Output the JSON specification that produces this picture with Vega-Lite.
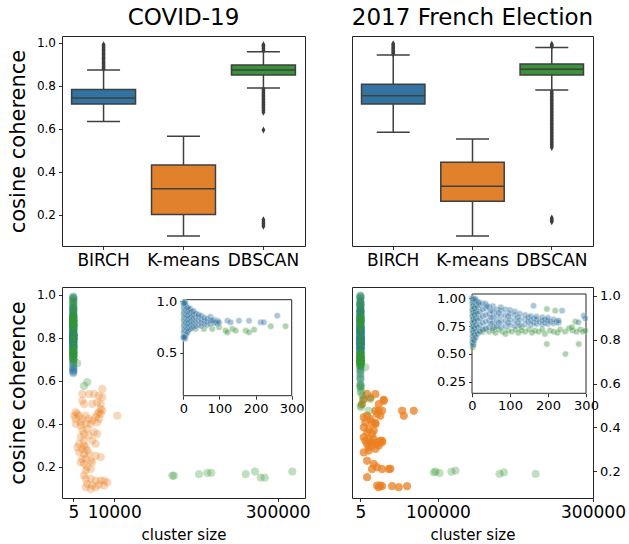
{
"$schema": "https://vega.github.io/schema/vega-lite/v6.json",
"padding": {"left": 6, "top": 6, "right": 2, "bottom": 2},
"config": {
 "font": "DejaVu Sans",
 "view": {"stroke": "#262626", "strokeWidth": 1},
 "axis": {"labelColor": "#000", "tickColor": "#000", "titleColor": "#000", "domain": false, "grid": false, "tickSize": 3.5, "tickWidth": 0.8, "labelPadding": 3, "titleFontWeight": "normal", "labelFlush": false, "labelOverlap": false},
 "title": {"fontSize": 23, "fontWeight": "normal", "color": "#000", "offset": 6}
},
"datasets": {
 "box_covid": [
  {"method": "BIRCH", "lo": 0.633, "q1": 0.715, "med": 0.743, "q3": 0.782, "hi": 0.873},
  {"method": "K-means", "lo": 0.1, "q1": 0.2, "med": 0.32, "q3": 0.431, "hi": 0.565},
  {"method": "DBSCAN", "lo": 0.789, "q1": 0.85, "med": 0.873, "q3": 0.896, "hi": 0.958}
 ],
 "box_french": [
  {"method": "BIRCH", "lo": 0.583, "q1": 0.715, "med": 0.753, "q3": 0.806, "hi": 0.943},
  {"method": "K-means", "lo": 0.1, "q1": 0.262, "med": 0.332, "q3": 0.444, "hi": 0.552},
  {"method": "DBSCAN", "lo": 0.78, "q1": 0.85, "med": 0.876, "q3": 0.901, "hi": 0.977}
 ],
 "out_covid": [
  {"method": "BIRCH", "v": 0.878}, {"method": "BIRCH", "v": 0.884}, {"method": "BIRCH", "v": 0.89}, {"method": "BIRCH", "v": 0.896}, {"method": "BIRCH", "v": 0.902}, {"method": "BIRCH", "v": 0.908}, {"method": "BIRCH", "v": 0.914}, {"method": "BIRCH", "v": 0.92}, {"method": "BIRCH", "v": 0.926}, {"method": "BIRCH", "v": 0.932}, {"method": "BIRCH", "v": 0.938}, {"method": "BIRCH", "v": 0.944}, {"method": "BIRCH", "v": 0.95}, {"method": "BIRCH", "v": 0.956}, {"method": "BIRCH", "v": 0.962}, {"method": "BIRCH", "v": 0.968}, {"method": "BIRCH", "v": 0.974}, {"method": "BIRCH", "v": 0.98}, {"method": "BIRCH", "v": 0.986}, {"method": "BIRCH", "v": 0.99},
  {"method": "DBSCAN", "v": 0.964}, {"method": "DBSCAN", "v": 0.972}, {"method": "DBSCAN", "v": 0.98}, {"method": "DBSCAN", "v": 0.986}, {"method": "DBSCAN", "v": 0.99},
  {"method": "DBSCAN", "v": 0.783}, {"method": "DBSCAN", "v": 0.776}, {"method": "DBSCAN", "v": 0.769}, {"method": "DBSCAN", "v": 0.762}, {"method": "DBSCAN", "v": 0.755}, {"method": "DBSCAN", "v": 0.748}, {"method": "DBSCAN", "v": 0.741}, {"method": "DBSCAN", "v": 0.734}, {"method": "DBSCAN", "v": 0.727}, {"method": "DBSCAN", "v": 0.72}, {"method": "DBSCAN", "v": 0.713}, {"method": "DBSCAN", "v": 0.706}, {"method": "DBSCAN", "v": 0.699}, {"method": "DBSCAN", "v": 0.692}, {"method": "DBSCAN", "v": 0.684}, {"method": "DBSCAN", "v": 0.676},
  {"method": "DBSCAN", "v": 0.594}, {"method": "DBSCAN", "v": 0.176}, {"method": "DBSCAN", "v": 0.168}, {"method": "DBSCAN", "v": 0.16}, {"method": "DBSCAN", "v": 0.152}, {"method": "DBSCAN", "v": 0.146}
 ],
 "out_french": [
  {"method": "BIRCH", "v": 0.948}, {"method": "BIRCH", "v": 0.954}, {"method": "BIRCH", "v": 0.96}, {"method": "BIRCH", "v": 0.966}, {"method": "BIRCH", "v": 0.972}, {"method": "BIRCH", "v": 0.978}, {"method": "BIRCH", "v": 0.984}, {"method": "BIRCH", "v": 0.99}, {"method": "BIRCH", "v": 0.995},
  {"method": "DBSCAN", "v": 0.982}, {"method": "DBSCAN", "v": 0.988}, {"method": "DBSCAN", "v": 0.993},
  {"method": "DBSCAN", "v": 0.772}, {"method": "DBSCAN", "v": 0.765}, {"method": "DBSCAN", "v": 0.758}, {"method": "DBSCAN", "v": 0.751}, {"method": "DBSCAN", "v": 0.744}, {"method": "DBSCAN", "v": 0.737}, {"method": "DBSCAN", "v": 0.73}, {"method": "DBSCAN", "v": 0.723}, {"method": "DBSCAN", "v": 0.716}, {"method": "DBSCAN", "v": 0.709}, {"method": "DBSCAN", "v": 0.702}, {"method": "DBSCAN", "v": 0.695}, {"method": "DBSCAN", "v": 0.688}, {"method": "DBSCAN", "v": 0.681}, {"method": "DBSCAN", "v": 0.674}, {"method": "DBSCAN", "v": 0.667}, {"method": "DBSCAN", "v": 0.66}, {"method": "DBSCAN", "v": 0.653}, {"method": "DBSCAN", "v": 0.646}, {"method": "DBSCAN", "v": 0.639}, {"method": "DBSCAN", "v": 0.632}, {"method": "DBSCAN", "v": 0.625}, {"method": "DBSCAN", "v": 0.618}, {"method": "DBSCAN", "v": 0.611}, {"method": "DBSCAN", "v": 0.604}, {"method": "DBSCAN", "v": 0.597}, {"method": "DBSCAN", "v": 0.59}, {"method": "DBSCAN", "v": 0.583}, {"method": "DBSCAN", "v": 0.576}, {"method": "DBSCAN", "v": 0.569}, {"method": "DBSCAN", "v": 0.562}, {"method": "DBSCAN", "v": 0.555}, {"method": "DBSCAN", "v": 0.548}, {"method": "DBSCAN", "v": 0.541}, {"method": "DBSCAN", "v": 0.534}, {"method": "DBSCAN", "v": 0.527}, {"method": "DBSCAN", "v": 0.52}, {"method": "DBSCAN", "v": 0.513},
  {"method": "DBSCAN", "v": 0.184}, {"method": "DBSCAN", "v": 0.178}, {"method": "DBSCAN", "v": 0.172}, {"method": "DBSCAN", "v": 0.167}
 ],
 "sc_covid": [
  {"method": "BIRCH", "size": 2, "coh": 0.64}, {"method": "BIRCH", "size": 2, "coh": 0.7}, {"method": "BIRCH", "size": 2, "coh": 0.76}, {"method": "BIRCH", "size": 2, "coh": 0.82}, {"method": "BIRCH", "size": 2, "coh": 0.88}, {"method": "BIRCH", "size": 2, "coh": 0.94}, {"method": "BIRCH", "size": 2, "coh": 0.99},
  {"method": "BIRCH", "size": 3, "coh": 0.66}, {"method": "BIRCH", "size": 3, "coh": 0.72}, {"method": "BIRCH", "size": 3, "coh": 0.78}, {"method": "BIRCH", "size": 3, "coh": 0.84}, {"method": "BIRCH", "size": 3, "coh": 0.9}, {"method": "BIRCH", "size": 3, "coh": 0.96},
  {"method": "BIRCH", "size": 5, "coh": 0.635}, {"method": "BIRCH", "size": 5, "coh": 0.68}, {"method": "BIRCH", "size": 5, "coh": 0.74}, {"method": "BIRCH", "size": 5, "coh": 0.8}, {"method": "BIRCH", "size": 5, "coh": 0.86}, {"method": "BIRCH", "size": 5, "coh": 0.92}, {"method": "BIRCH", "size": 5, "coh": 0.97},
  {"method": "BIRCH", "size": 7, "coh": 0.67}, {"method": "BIRCH", "size": 7, "coh": 0.71}, {"method": "BIRCH", "size": 7, "coh": 0.75}, {"method": "BIRCH", "size": 7, "coh": 0.79}, {"method": "BIRCH", "size": 7, "coh": 0.83}, {"method": "BIRCH", "size": 7, "coh": 0.87}, {"method": "BIRCH", "size": 7, "coh": 0.91}, {"method": "BIRCH", "size": 7, "coh": 0.95},
  {"method": "BIRCH", "size": 9, "coh": 0.69}, {"method": "BIRCH", "size": 9, "coh": 0.73}, {"method": "BIRCH", "size": 9, "coh": 0.77}, {"method": "BIRCH", "size": 9, "coh": 0.81}, {"method": "BIRCH", "size": 9, "coh": 0.85}, {"method": "BIRCH", "size": 9, "coh": 0.89}, {"method": "BIRCH", "size": 9, "coh": 0.93},
  {"method": "BIRCH", "size": 12, "coh": 0.7}, {"method": "BIRCH", "size": 12, "coh": 0.74}, {"method": "BIRCH", "size": 12, "coh": 0.78}, {"method": "BIRCH", "size": 12, "coh": 0.82}, {"method": "BIRCH", "size": 12, "coh": 0.86}, {"method": "BIRCH", "size": 12, "coh": 0.9}, {"method": "BIRCH", "size": 12, "coh": 0.94},
  {"method": "BIRCH", "size": 15, "coh": 0.72}, {"method": "BIRCH", "size": 15, "coh": 0.76}, {"method": "BIRCH", "size": 15, "coh": 0.8}, {"method": "BIRCH", "size": 15, "coh": 0.84}, {"method": "BIRCH", "size": 15, "coh": 0.88}, {"method": "BIRCH", "size": 15, "coh": 0.92},
  {"method": "BIRCH", "size": 19, "coh": 0.73}, {"method": "BIRCH", "size": 19, "coh": 0.77}, {"method": "BIRCH", "size": 19, "coh": 0.81}, {"method": "BIRCH", "size": 19, "coh": 0.85}, {"method": "BIRCH", "size": 19, "coh": 0.89}, {"method": "BIRCH", "size": 19, "coh": 0.93},
  {"method": "BIRCH", "size": 24, "coh": 0.74}, {"method": "BIRCH", "size": 24, "coh": 0.78}, {"method": "BIRCH", "size": 24, "coh": 0.82}, {"method": "BIRCH", "size": 24, "coh": 0.86}, {"method": "BIRCH", "size": 24, "coh": 0.9},
  {"method": "BIRCH", "size": 29, "coh": 0.75}, {"method": "BIRCH", "size": 29, "coh": 0.79}, {"method": "BIRCH", "size": 29, "coh": 0.83}, {"method": "BIRCH", "size": 29, "coh": 0.87}, {"method": "BIRCH", "size": 29, "coh": 0.905},
  {"method": "BIRCH", "size": 35, "coh": 0.76}, {"method": "BIRCH", "size": 35, "coh": 0.8}, {"method": "BIRCH", "size": 35, "coh": 0.84}, {"method": "BIRCH", "size": 35, "coh": 0.88},
  {"method": "BIRCH", "size": 42, "coh": 0.77}, {"method": "BIRCH", "size": 42, "coh": 0.81}, {"method": "BIRCH", "size": 42, "coh": 0.85}, {"method": "BIRCH", "size": 42, "coh": 0.87},
  {"method": "BIRCH", "size": 50, "coh": 0.76}, {"method": "BIRCH", "size": 50, "coh": 0.79}, {"method": "BIRCH", "size": 50, "coh": 0.82}, {"method": "BIRCH", "size": 50, "coh": 0.86},
  {"method": "BIRCH", "size": 58, "coh": 0.78}, {"method": "BIRCH", "size": 58, "coh": 0.81}, {"method": "BIRCH", "size": 58, "coh": 0.84},
  {"method": "BIRCH", "size": 66, "coh": 0.77}, {"method": "BIRCH", "size": 66, "coh": 0.8}, {"method": "BIRCH", "size": 66, "coh": 0.83},
  {"method": "BIRCH", "size": 75, "coh": 0.78}, {"method": "BIRCH", "size": 75, "coh": 0.81}, {"method": "BIRCH", "size": 75, "coh": 0.85},
  {"method": "BIRCH", "size": 85, "coh": 0.79}, {"method": "BIRCH", "size": 85, "coh": 0.82},
  {"method": "BIRCH", "size": 95, "coh": 0.78}, {"method": "BIRCH", "size": 95, "coh": 0.81},
  {"method": "BIRCH", "size": 80, "coh": 0.811}, {"method": "BIRCH", "size": 90, "coh": 0.795}, {"method": "BIRCH", "size": 99, "coh": 0.795}, {"method": "BIRCH", "size": 122, "coh": 0.811}, {"method": "BIRCH", "size": 131, "coh": 0.795}, {"method": "BIRCH", "size": 154, "coh": 0.811}, {"method": "BIRCH", "size": 182, "coh": 0.811}, {"method": "BIRCH", "size": 214, "coh": 0.795}, {"method": "BIRCH", "size": 223, "coh": 0.795}, {"method": "BIRCH", "size": 260, "coh": 0.86},
  {"method": "BIRCH", "size": 1, "coh": 0.645}, {"method": "BIRCH", "size": 1, "coh": 0.655}, {"method": "BIRCH", "size": 4, "coh": 0.65}, {"method": "BIRCH", "size": 1, "coh": 0.98}, {"method": "BIRCH", "size": 4, "coh": 0.985},
  {"method": "K-means", "size": 13210, "coh": 0.538}, {"method": "K-means", "size": 23040, "coh": 0.538}, {"method": "K-means", "size": 30380, "coh": 0.538}, {"method": "K-means", "size": 37720, "coh": 0.53}, {"method": "K-means", "size": 42560, "coh": 0.523}, {"method": "K-means", "size": 13210, "coh": 0.507}, {"method": "K-means", "size": 15700, "coh": 0.492}, {"method": "K-means", "size": 27890, "coh": 0.492}, {"method": "K-means", "size": 35220, "coh": 0.499}, {"method": "K-means", "size": 40210, "coh": 0.492},
  {"method": "K-means", "size": 40210, "coh": 0.468}, {"method": "K-means", "size": 37720, "coh": 0.453}, {"method": "K-means", "size": 42560, "coh": 0.461}, {"method": "K-means", "size": 35220, "coh": 0.445}, {"method": "K-means", "size": 3520, "coh": 0.453}, {"method": "K-means", "size": 5870, "coh": 0.445}, {"method": "K-means", "size": 1030, "coh": 0.437}, {"method": "K-means", "size": 8370, "coh": 0.437}, {"method": "K-means", "size": 13210, "coh": 0.422}, {"method": "K-means", "size": 18200, "coh": 0.437},
  {"method": "K-means", "size": 23040, "coh": 0.422}, {"method": "K-means", "size": 27890, "coh": 0.414}, {"method": "K-means", "size": 32880, "coh": 0.43}, {"method": "K-means", "size": 37720, "coh": 0.422}, {"method": "K-means", "size": 40210, "coh": 0.445}, {"method": "K-means", "size": 64580, "coh": 0.437}, {"method": "K-means", "size": 3520, "coh": 0.399}, {"method": "K-means", "size": 10860, "coh": 0.391}, {"method": "K-means", "size": 18200, "coh": 0.399}, {"method": "K-means", "size": 25540, "coh": 0.399},
  {"method": "K-means", "size": 35220, "coh": 0.406}, {"method": "K-means", "size": 13210, "coh": 0.368}, {"method": "K-means", "size": 15700, "coh": 0.352}, {"method": "K-means", "size": 10860, "coh": 0.337}, {"method": "K-means", "size": 15700, "coh": 0.321}, {"method": "K-means", "size": 30380, "coh": 0.36}, {"method": "K-means", "size": 35220, "coh": 0.352}, {"method": "K-means", "size": 8370, "coh": 0.306}, {"method": "K-means", "size": 15700, "coh": 0.298}, {"method": "K-means", "size": 27890, "coh": 0.321},
  {"method": "K-means", "size": 32880, "coh": 0.306}, {"method": "K-means", "size": 5870, "coh": 0.29}, {"method": "K-means", "size": 13210, "coh": 0.282}, {"method": "K-means", "size": 20550, "coh": 0.275}, {"method": "K-means", "size": 8370, "coh": 0.267}, {"method": "K-means", "size": 15700, "coh": 0.259}, {"method": "K-means", "size": 23040, "coh": 0.259}, {"method": "K-means", "size": 32880, "coh": 0.251}, {"method": "K-means", "size": 40210, "coh": 0.244}, {"method": "K-means", "size": 13210, "coh": 0.236},
  {"method": "K-means", "size": 18200, "coh": 0.236}, {"method": "K-means", "size": 25540, "coh": 0.228}, {"method": "K-means", "size": 27890, "coh": 0.22}, {"method": "K-means", "size": 15700, "coh": 0.213}, {"method": "K-means", "size": 20550, "coh": 0.197}, {"method": "K-means", "size": 18200, "coh": 0.182}, {"method": "K-means", "size": 25540, "coh": 0.189}, {"method": "K-means", "size": 18200, "coh": 0.143}, {"method": "K-means", "size": 25540, "coh": 0.143}, {"method": "K-means", "size": 32880, "coh": 0.135},
  {"method": "K-means", "size": 40210, "coh": 0.135}, {"method": "K-means", "size": 45060, "coh": 0.135}, {"method": "K-means", "size": 49900, "coh": 0.127}, {"method": "K-means", "size": 20550, "coh": 0.119}, {"method": "K-means", "size": 27890, "coh": 0.112}, {"method": "K-means", "size": 37720, "coh": 0.115}, {"method": "K-means", "size": 45060, "coh": 0.112}, {"method": "K-means", "size": 18200, "coh": 0.104}, {"method": "K-means", "size": 25540, "coh": 0.096}, {"method": "K-means", "size": 32880, "coh": 0.104},
  {"method": "K-means", "size": 10860, "coh": 0.406}, {"method": "K-means", "size": 20550, "coh": 0.376}, {"method": "K-means", "size": 23040, "coh": 0.345}, {"method": "K-means", "size": 18200, "coh": 0.29}, {"method": "K-means", "size": 10860, "coh": 0.22}, {"method": "K-means", "size": 15700, "coh": 0.159}, {"method": "K-means", "size": 42560, "coh": 0.561}, {"method": "K-means", "size": 3520, "coh": 0.422},
  {"method": "DBSCAN", "size": 2, "coh": 0.7}, {"method": "DBSCAN", "size": 2, "coh": 0.76}, {"method": "DBSCAN", "size": 2, "coh": 0.82}, {"method": "DBSCAN", "size": 2, "coh": 0.86}, {"method": "DBSCAN", "size": 2, "coh": 0.88}, {"method": "DBSCAN", "size": 2, "coh": 0.92}, {"method": "DBSCAN", "size": 2, "coh": 0.97},
  {"method": "DBSCAN", "size": 3, "coh": 0.68}, {"method": "DBSCAN", "size": 3, "coh": 0.74}, {"method": "DBSCAN", "size": 3, "coh": 0.8}, {"method": "DBSCAN", "size": 3, "coh": 0.85}, {"method": "DBSCAN", "size": 3, "coh": 0.87}, {"method": "DBSCAN", "size": 3, "coh": 0.89}, {"method": "DBSCAN", "size": 3, "coh": 0.95}, {"method": "DBSCAN", "size": 3, "coh": 0.99},
  {"method": "DBSCAN", "size": 5, "coh": 0.72}, {"method": "DBSCAN", "size": 5, "coh": 0.78}, {"method": "DBSCAN", "size": 5, "coh": 0.84}, {"method": "DBSCAN", "size": 5, "coh": 0.86}, {"method": "DBSCAN", "size": 5, "coh": 0.88}, {"method": "DBSCAN", "size": 5, "coh": 0.9}, {"method": "DBSCAN", "size": 5, "coh": 0.93}, {"method": "DBSCAN", "size": 5, "coh": 0.98},
  {"method": "DBSCAN", "size": 7, "coh": 0.75}, {"method": "DBSCAN", "size": 7, "coh": 0.81}, {"method": "DBSCAN", "size": 7, "coh": 0.855}, {"method": "DBSCAN", "size": 7, "coh": 0.875}, {"method": "DBSCAN", "size": 7, "coh": 0.895}, {"method": "DBSCAN", "size": 7, "coh": 0.94}, {"method": "DBSCAN", "size": 7, "coh": 0.96},
  {"method": "DBSCAN", "size": 10, "coh": 0.79}, {"method": "DBSCAN", "size": 10, "coh": 0.85}, {"method": "DBSCAN", "size": 10, "coh": 0.87}, {"method": "DBSCAN", "size": 10, "coh": 0.89}, {"method": "DBSCAN", "size": 10, "coh": 0.91},
  {"method": "DBSCAN", "size": 14, "coh": 0.83}, {"method": "DBSCAN", "size": 14, "coh": 0.86}, {"method": "DBSCAN", "size": 14, "coh": 0.88}, {"method": "DBSCAN", "size": 14, "coh": 0.9},
  {"method": "DBSCAN", "size": 20, "coh": 0.8}, {"method": "DBSCAN", "size": 20, "coh": 0.86}, {"method": "DBSCAN", "size": 20, "coh": 0.88},
  {"method": "DBSCAN", "size": 34, "coh": 0.731}, {"method": "DBSCAN", "size": 57, "coh": 0.731}, {"method": "DBSCAN", "size": 80, "coh": 0.731}, {"method": "DBSCAN", "size": 99, "coh": 0.747}, {"method": "DBSCAN", "size": 117, "coh": 0.714}, {"method": "DBSCAN", "size": 122, "coh": 0.698}, {"method": "DBSCAN", "size": 136, "coh": 0.731}, {"method": "DBSCAN", "size": 145, "coh": 0.714}, {"method": "DBSCAN", "size": 173, "coh": 0.714}, {"method": "DBSCAN", "size": 182, "coh": 0.698}, {"method": "DBSCAN", "size": 196, "coh": 0.724}, {"method": "DBSCAN", "size": 242, "coh": 0.757}, {"method": "DBSCAN", "size": 283, "coh": 0.757},
  {"method": "DBSCAN", "size": 5870, "coh": 0.681}, {"method": "DBSCAN", "size": 15700, "coh": 0.576}, {"method": "DBSCAN", "size": 20550, "coh": 0.593},
  {"method": "DBSCAN", "size": 145300, "coh": 0.158}, {"method": "DBSCAN", "size": 147800, "coh": 0.158}, {"method": "DBSCAN", "size": 184500, "coh": 0.165}, {"method": "DBSCAN", "size": 196700, "coh": 0.171}, {"method": "DBSCAN", "size": 202500, "coh": 0.171}, {"method": "DBSCAN", "size": 253000, "coh": 0.165}, {"method": "DBSCAN", "size": 266700, "coh": 0.177}, {"method": "DBSCAN", "size": 275000, "coh": 0.149}, {"method": "DBSCAN", "size": 281000, "coh": 0.149}, {"method": "DBSCAN", "size": 321400, "coh": 0.177}
 ],
 "sc_french": [
  {"method": "BIRCH", "size": 1, "coh": 0.6}, {"method": "BIRCH", "size": 1, "coh": 0.66}, {"method": "BIRCH", "size": 1, "coh": 0.72}, {"method": "BIRCH", "size": 1, "coh": 0.78}, {"method": "BIRCH", "size": 1, "coh": 0.84}, {"method": "BIRCH", "size": 1, "coh": 0.9}, {"method": "BIRCH", "size": 1, "coh": 0.96}, {"method": "BIRCH", "size": 1, "coh": 1.0},
  {"method": "BIRCH", "size": 3, "coh": 0.58}, {"method": "BIRCH", "size": 3, "coh": 0.63}, {"method": "BIRCH", "size": 3, "coh": 0.69}, {"method": "BIRCH", "size": 3, "coh": 0.75}, {"method": "BIRCH", "size": 3, "coh": 0.81}, {"method": "BIRCH", "size": 3, "coh": 0.87}, {"method": "BIRCH", "size": 3, "coh": 0.93}, {"method": "BIRCH", "size": 3, "coh": 0.99},
  {"method": "BIRCH", "size": 6, "coh": 0.62}, {"method": "BIRCH", "size": 6, "coh": 0.67}, {"method": "BIRCH", "size": 6, "coh": 0.73}, {"method": "BIRCH", "size": 6, "coh": 0.79}, {"method": "BIRCH", "size": 6, "coh": 0.85}, {"method": "BIRCH", "size": 6, "coh": 0.91}, {"method": "BIRCH", "size": 6, "coh": 0.97},
  {"method": "BIRCH", "size": 10, "coh": 0.65}, {"method": "BIRCH", "size": 10, "coh": 0.7}, {"method": "BIRCH", "size": 10, "coh": 0.76}, {"method": "BIRCH", "size": 10, "coh": 0.82}, {"method": "BIRCH", "size": 10, "coh": 0.88}, {"method": "BIRCH", "size": 10, "coh": 0.94}, {"method": "BIRCH", "size": 10, "coh": 0.98},
  {"method": "BIRCH", "size": 15, "coh": 0.68}, {"method": "BIRCH", "size": 15, "coh": 0.74}, {"method": "BIRCH", "size": 15, "coh": 0.8}, {"method": "BIRCH", "size": 15, "coh": 0.86}, {"method": "BIRCH", "size": 15, "coh": 0.92}, {"method": "BIRCH", "size": 15, "coh": 0.97},
  {"method": "BIRCH", "size": 21, "coh": 0.7}, {"method": "BIRCH", "size": 21, "coh": 0.76}, {"method": "BIRCH", "size": 21, "coh": 0.82}, {"method": "BIRCH", "size": 21, "coh": 0.88}, {"method": "BIRCH", "size": 21, "coh": 0.94},
  {"method": "BIRCH", "size": 28, "coh": 0.72}, {"method": "BIRCH", "size": 28, "coh": 0.78}, {"method": "BIRCH", "size": 28, "coh": 0.84}, {"method": "BIRCH", "size": 28, "coh": 0.9}, {"method": "BIRCH", "size": 28, "coh": 0.955},
  {"method": "BIRCH", "size": 36, "coh": 0.73}, {"method": "BIRCH", "size": 36, "coh": 0.79}, {"method": "BIRCH", "size": 36, "coh": 0.85}, {"method": "BIRCH", "size": 36, "coh": 0.91}, {"method": "BIRCH", "size": 36, "coh": 0.95},
  {"method": "BIRCH", "size": 45, "coh": 0.74}, {"method": "BIRCH", "size": 45, "coh": 0.8}, {"method": "BIRCH", "size": 45, "coh": 0.86}, {"method": "BIRCH", "size": 45, "coh": 0.92},
  {"method": "BIRCH", "size": 50, "coh": 0.77}, {"method": "BIRCH", "size": 50, "coh": 0.83}, {"method": "BIRCH", "size": 50, "coh": 0.89},
  {"method": "BIRCH", "size": 55, "coh": 0.73}, {"method": "BIRCH", "size": 55, "coh": 0.78}, {"method": "BIRCH", "size": 55, "coh": 0.83}, {"method": "BIRCH", "size": 55, "coh": 0.88}, {"method": "BIRCH", "size": 55, "coh": 0.93},
  {"method": "BIRCH", "size": 65, "coh": 0.75}, {"method": "BIRCH", "size": 65, "coh": 0.8}, {"method": "BIRCH", "size": 65, "coh": 0.85}, {"method": "BIRCH", "size": 65, "coh": 0.9},
  {"method": "BIRCH", "size": 70, "coh": 0.78}, {"method": "BIRCH", "size": 70, "coh": 0.87},
  {"method": "BIRCH", "size": 76, "coh": 0.74}, {"method": "BIRCH", "size": 76, "coh": 0.79}, {"method": "BIRCH", "size": 76, "coh": 0.84}, {"method": "BIRCH", "size": 76, "coh": 0.89}, {"method": "BIRCH", "size": 76, "coh": 0.92},
  {"method": "BIRCH", "size": 88, "coh": 0.75}, {"method": "BIRCH", "size": 88, "coh": 0.8}, {"method": "BIRCH", "size": 88, "coh": 0.85}, {"method": "BIRCH", "size": 88, "coh": 0.9},
  {"method": "BIRCH", "size": 95, "coh": 0.78}, {"method": "BIRCH", "size": 95, "coh": 0.84},
  {"method": "BIRCH", "size": 100, "coh": 0.76}, {"method": "BIRCH", "size": 100, "coh": 0.81}, {"method": "BIRCH", "size": 100, "coh": 0.86}, {"method": "BIRCH", "size": 100, "coh": 0.895},
  {"method": "BIRCH", "size": 113, "coh": 0.75}, {"method": "BIRCH", "size": 113, "coh": 0.8}, {"method": "BIRCH", "size": 113, "coh": 0.85}, {"method": "BIRCH", "size": 113, "coh": 0.88},
  {"method": "BIRCH", "size": 120, "coh": 0.78}, {"method": "BIRCH", "size": 120, "coh": 0.83},
  {"method": "BIRCH", "size": 126, "coh": 0.76}, {"method": "BIRCH", "size": 126, "coh": 0.81}, {"method": "BIRCH", "size": 126, "coh": 0.86},
  {"method": "BIRCH", "size": 140, "coh": 0.765}, {"method": "BIRCH", "size": 140, "coh": 0.81}, {"method": "BIRCH", "size": 140, "coh": 0.85},
  {"method": "BIRCH", "size": 148, "coh": 0.79}, {"method": "BIRCH", "size": 148, "coh": 0.83},
  {"method": "BIRCH", "size": 155, "coh": 0.76}, {"method": "BIRCH", "size": 155, "coh": 0.8}, {"method": "BIRCH", "size": 155, "coh": 0.84},
  {"method": "BIRCH", "size": 163, "coh": 0.78}, {"method": "BIRCH", "size": 163, "coh": 0.82},
  {"method": "BIRCH", "size": 170, "coh": 0.77}, {"method": "BIRCH", "size": 170, "coh": 0.81}, {"method": "BIRCH", "size": 170, "coh": 0.835},
  {"method": "BIRCH", "size": 178, "coh": 0.79},
  {"method": "BIRCH", "size": 185, "coh": 0.765}, {"method": "BIRCH", "size": 185, "coh": 0.8}, {"method": "BIRCH", "size": 185, "coh": 0.83},
  {"method": "BIRCH", "size": 192, "coh": 0.78}, {"method": "BIRCH", "size": 192, "coh": 0.81},
  {"method": "BIRCH", "size": 200, "coh": 0.77}, {"method": "BIRCH", "size": 200, "coh": 0.8}, {"method": "BIRCH", "size": 200, "coh": 0.825},
  {"method": "BIRCH", "size": 207, "coh": 0.79}, {"method": "BIRCH", "size": 215, "coh": 0.775}, {"method": "BIRCH", "size": 215, "coh": 0.81}, {"method": "BIRCH", "size": 222, "coh": 0.79}, {"method": "BIRCH", "size": 228, "coh": 0.78}, {"method": "BIRCH", "size": 228, "coh": 0.8},
  {"method": "BIRCH", "size": 162, "coh": 0.933}, {"method": "BIRCH", "size": 237, "coh": 0.889}, {"method": "BIRCH", "size": 280, "coh": 0.784}, {"method": "BIRCH", "size": 294, "coh": 0.844}, {"method": "BIRCH", "size": 298, "coh": 0.82}, {"method": "BIRCH", "size": 8, "coh": 0.995}, {"method": "BIRCH", "size": 18, "coh": 0.96}, {"method": "BIRCH", "size": 40, "coh": 0.93},
  {"method": "K-means", "size": 8570, "coh": 0.552}, {"method": "K-means", "size": 19330, "coh": 0.552}, {"method": "K-means", "size": 4260, "coh": 0.529}, {"method": "K-means", "size": 12870, "coh": 0.536}, {"method": "K-means", "size": 23640, "coh": 0.506}, {"method": "K-means", "size": 30100, "coh": 0.521}, {"method": "K-means", "size": 2100, "coh": 0.506}, {"method": "K-means", "size": 53770, "coh": 0.476}, {"method": "K-means", "size": 68840, "coh": 0.476}, {"method": "K-means", "size": 55920, "coh": 0.453},
  {"method": "K-means", "size": 19330, "coh": 0.476}, {"method": "K-means", "size": 27950, "coh": 0.476}, {"method": "K-means", "size": 21500, "coh": 0.461}, {"method": "K-means", "size": 4260, "coh": 0.446}, {"method": "K-means", "size": 8570, "coh": 0.453}, {"method": "K-means", "size": 12870, "coh": 0.438}, {"method": "K-means", "size": 6400, "coh": 0.423}, {"method": "K-means", "size": 15000, "coh": 0.423}, {"method": "K-means", "size": 19330, "coh": 0.415}, {"method": "K-means", "size": 4260, "coh": 0.4},
  {"method": "K-means", "size": 10700, "coh": 0.392}, {"method": "K-means", "size": 17180, "coh": 0.385}, {"method": "K-means", "size": 8570, "coh": 0.377}, {"method": "K-means", "size": 15000, "coh": 0.37}, {"method": "K-means", "size": 4260, "coh": 0.355}, {"method": "K-means", "size": 10700, "coh": 0.347}, {"method": "K-means", "size": 19330, "coh": 0.332}, {"method": "K-means", "size": 25800, "coh": 0.339}, {"method": "K-means", "size": 6400, "coh": 0.339}, {"method": "K-means", "size": 12870, "coh": 0.332},
  {"method": "K-means", "size": 17180, "coh": 0.347}, {"method": "K-means", "size": 8570, "coh": 0.324}, {"method": "K-means", "size": 15000, "coh": 0.317}, {"method": "K-means", "size": 21500, "coh": 0.324}, {"method": "K-means", "size": 10700, "coh": 0.309}, {"method": "K-means", "size": 4260, "coh": 0.286}, {"method": "K-means", "size": 10700, "coh": 0.294}, {"method": "K-means", "size": 19330, "coh": 0.302}, {"method": "K-means", "size": 23640, "coh": 0.317}, {"method": "K-means", "size": 27950, "coh": 0.332},
  {"method": "K-means", "size": 8570, "coh": 0.248}, {"method": "K-means", "size": 17180, "coh": 0.233}, {"method": "K-means", "size": 15000, "coh": 0.21}, {"method": "K-means", "size": 27950, "coh": 0.21}, {"method": "K-means", "size": 36560, "coh": 0.21}, {"method": "K-means", "size": 21500, "coh": 0.218}, {"method": "K-means", "size": 8570, "coh": 0.173}, {"method": "K-means", "size": 21500, "coh": 0.135}, {"method": "K-means", "size": 25800, "coh": 0.135}, {"method": "K-means", "size": 27950, "coh": 0.132},
  {"method": "K-means", "size": 40860, "coh": 0.132}, {"method": "K-means", "size": 49470, "coh": 0.127}, {"method": "K-means", "size": 60230, "coh": 0.132}, {"method": "K-means", "size": 23640, "coh": 0.127}, {"method": "K-means", "size": 30100, "coh": 0.526}, {"method": "K-means", "size": 38700, "coh": 0.211}, {"method": "K-means", "size": 27900, "coh": 0.339}, {"method": "K-means", "size": 19400, "coh": 0.42}, {"method": "K-means", "size": 23600, "coh": 0.476}, {"method": "K-means", "size": 25800, "coh": 0.453},
  {"method": "DBSCAN", "size": 2, "coh": 0.56}, {"method": "DBSCAN", "size": 2, "coh": 0.62}, {"method": "DBSCAN", "size": 2, "coh": 0.7}, {"method": "DBSCAN", "size": 2, "coh": 0.78}, {"method": "DBSCAN", "size": 2, "coh": 0.84}, {"method": "DBSCAN", "size": 2, "coh": 0.87}, {"method": "DBSCAN", "size": 2, "coh": 0.89}, {"method": "DBSCAN", "size": 2, "coh": 0.93}, {"method": "DBSCAN", "size": 2, "coh": 0.97}, {"method": "DBSCAN", "size": 2, "coh": 1.0},
  {"method": "DBSCAN", "size": 4, "coh": 0.59}, {"method": "DBSCAN", "size": 4, "coh": 0.66}, {"method": "DBSCAN", "size": 4, "coh": 0.74}, {"method": "DBSCAN", "size": 4, "coh": 0.81}, {"method": "DBSCAN", "size": 4, "coh": 0.855}, {"method": "DBSCAN", "size": 4, "coh": 0.88}, {"method": "DBSCAN", "size": 4, "coh": 0.9}, {"method": "DBSCAN", "size": 4, "coh": 0.95}, {"method": "DBSCAN", "size": 4, "coh": 0.99},
  {"method": "DBSCAN", "size": 6, "coh": 0.64}, {"method": "DBSCAN", "size": 6, "coh": 0.72}, {"method": "DBSCAN", "size": 6, "coh": 0.8}, {"method": "DBSCAN", "size": 6, "coh": 0.86}, {"method": "DBSCAN", "size": 6, "coh": 0.875}, {"method": "DBSCAN", "size": 6, "coh": 0.905}, {"method": "DBSCAN", "size": 6, "coh": 0.96},
  {"method": "DBSCAN", "size": 9, "coh": 0.68}, {"method": "DBSCAN", "size": 9, "coh": 0.76}, {"method": "DBSCAN", "size": 9, "coh": 0.83}, {"method": "DBSCAN", "size": 9, "coh": 0.865}, {"method": "DBSCAN", "size": 9, "coh": 0.885}, {"method": "DBSCAN", "size": 9, "coh": 0.92},
  {"method": "DBSCAN", "size": 20, "coh": 0.71}, {"method": "DBSCAN", "size": 28, "coh": 0.7}, {"method": "DBSCAN", "size": 35, "coh": 0.72}, {"method": "DBSCAN", "size": 45, "coh": 0.7}, {"method": "DBSCAN", "size": 55, "coh": 0.71}, {"method": "DBSCAN", "size": 62, "coh": 0.69}, {"method": "DBSCAN", "size": 70, "coh": 0.72}, {"method": "DBSCAN", "size": 80, "coh": 0.7}, {"method": "DBSCAN", "size": 88, "coh": 0.68}, {"method": "DBSCAN", "size": 95, "coh": 0.71},
  {"method": "DBSCAN", "size": 105, "coh": 0.7}, {"method": "DBSCAN", "size": 115, "coh": 0.72}, {"method": "DBSCAN", "size": 122, "coh": 0.69}, {"method": "DBSCAN", "size": 130, "coh": 0.71}, {"method": "DBSCAN", "size": 140, "coh": 0.7}, {"method": "DBSCAN", "size": 150, "coh": 0.72}, {"method": "DBSCAN", "size": 158, "coh": 0.69}, {"method": "DBSCAN", "size": 165, "coh": 0.71}, {"method": "DBSCAN", "size": 175, "coh": 0.7}, {"method": "DBSCAN", "size": 185, "coh": 0.72},
  {"method": "DBSCAN", "size": 192, "coh": 0.68}, {"method": "DBSCAN", "size": 205, "coh": 0.71}, {"method": "DBSCAN", "size": 215, "coh": 0.7}, {"method": "DBSCAN", "size": 225, "coh": 0.69}, {"method": "DBSCAN", "size": 232, "coh": 0.72}, {"method": "DBSCAN", "size": 245, "coh": 0.7}, {"method": "DBSCAN", "size": 255, "coh": 0.73}, {"method": "DBSCAN", "size": 265, "coh": 0.71}, {"method": "DBSCAN", "size": 275, "coh": 0.7}, {"method": "DBSCAN", "size": 285, "coh": 0.72},
  {"method": "DBSCAN", "size": 292, "coh": 0.7}, {"method": "DBSCAN", "size": 298, "coh": 0.71},
  {"method": "DBSCAN", "size": 197, "coh": 0.904}, {"method": "DBSCAN", "size": 219, "coh": 0.889}, {"method": "DBSCAN", "size": 197, "coh": 0.589}, {"method": "DBSCAN", "size": 246, "coh": 0.499}, {"method": "DBSCAN", "size": 281, "coh": 0.589}, {"method": "DBSCAN", "size": 272, "coh": 0.79}, {"method": "DBSCAN", "size": 263, "coh": 0.74}, {"method": "DBSCAN", "size": 130, "coh": 0.74}, {"method": "DBSCAN", "size": 60, "coh": 0.74},
  {"method": "DBSCAN", "size": 1500, "coh": 0.565}, {"method": "DBSCAN", "size": 2500, "coh": 0.545}, {"method": "DBSCAN", "size": 3200, "coh": 0.525}, {"method": "DBSCAN", "size": 6450, "coh": 0.674}, {"method": "DBSCAN", "size": 800, "coh": 0.492}, {"method": "DBSCAN", "size": 10700, "coh": 0.476}, {"method": "DBSCAN", "size": 12870, "coh": 0.529},
  {"method": "DBSCAN", "size": 94700, "coh": 0.195}, {"method": "DBSCAN", "size": 96900, "coh": 0.198}, {"method": "DBSCAN", "size": 102000, "coh": 0.192}, {"method": "DBSCAN", "size": 117500, "coh": 0.198}, {"method": "DBSCAN", "size": 122700, "coh": 0.203}, {"method": "DBSCAN", "size": 179500, "coh": 0.188}, {"method": "DBSCAN", "size": 185100, "coh": 0.195}, {"method": "DBSCAN", "size": 226000, "coh": 0.188}
 ]
},
"columns": 2,
"spacing": {"row": 41, "column": 47},
"bounds": "flush",
"concat": [
 {
  "title": {"text": "COVID-19"},
  "width": 243, "height": 210,
  "encoding": {"x": {"field": "method", "type": "nominal", "sort": ["BIRCH", "K-means", "DBSCAN"], "scale": {"paddingInner": 0, "paddingOuter": 0.02}, "axis": {"title": null, "labelAngle": 0, "labelFontSize": 17}}},
  "layer": [
   {"data": {"name": "box_covid"}, "mark": {"type": "rule", "color": "#3f3f3f", "strokeWidth": 1.5},
    "encoding": {"y": {"field": "lo", "type": "quantitative", "title": "cosine coherence", "scale": {"domain": [0.054, 1.031], "nice": false, "zero": false}, "axis": {"values": [0.2, 0.4, 0.6, 0.8, 1.0], "format": ".1f", "labelFontSize": 12, "titleFontSize": 21, "titlePadding": 8}}, "y2": {"field": "q1"}}},
   {"data": {"name": "box_covid"}, "mark": {"type": "rule", "color": "#3f3f3f", "strokeWidth": 1.5},
    "encoding": {"y": {"field": "q3", "type": "quantitative", "title": "cosine coherence", "scale": {"domain": [0.054, 1.031], "nice": false, "zero": false}}, "y2": {"field": "hi"}}},
   {"data": {"name": "box_covid"}, "mark": {"type": "bar", "width": {"band": 0.8}, "stroke": "#3f3f3f", "strokeWidth": 1.5},
    "encoding": {"y": {"field": "q1", "type": "quantitative", "title": "cosine coherence", "scale": {"domain": [0.054, 1.031], "nice": false, "zero": false}}, "y2": {"field": "q3"},
     "color": {"field": "method", "type": "nominal", "scale": {"domain": ["BIRCH", "K-means", "DBSCAN"], "range": ["#3274a1", "#e1812c", "#3a923a"]}, "legend": null}}},
   {"data": {"name": "box_covid"}, "mark": {"type": "tick", "color": "#3f3f3f", "size": 64, "thickness": 1.5, "opacity": 1},
    "encoding": {"y": {"field": "med", "type": "quantitative", "title": "cosine coherence", "scale": {"domain": [0.054, 1.031], "nice": false, "zero": false}}}},
   {"data": {"name": "box_covid"}, "mark": {"type": "tick", "color": "#3f3f3f", "size": 33, "thickness": 1.5, "opacity": 1},
    "encoding": {"y": {"field": "lo", "type": "quantitative", "title": "cosine coherence", "scale": {"domain": [0.054, 1.031], "nice": false, "zero": false}}}},
   {"data": {"name": "box_covid"}, "mark": {"type": "tick", "color": "#3f3f3f", "size": 33, "thickness": 1.5, "opacity": 1},
    "encoding": {"y": {"field": "hi", "type": "quantitative", "title": "cosine coherence", "scale": {"domain": [0.054, 1.031], "nice": false, "zero": false}}}},
   {"data": {"name": "out_covid"}, "mark": {"type": "point", "shape": "M0,-1L0.55,0L0,1L-0.55,0Z", "filled": true, "color": "#3f3f3f", "opacity": 1, "size": 50},
    "encoding": {"y": {"field": "v", "type": "quantitative", "title": "cosine coherence", "scale": {"domain": [0.054, 1.031], "nice": false, "zero": false}}}}
  ]
 },
 {
  "title": {"text": "2017 French Election"},
  "width": 241, "height": 210,
  "encoding": {"x": {"field": "method", "type": "nominal", "sort": ["BIRCH", "K-means", "DBSCAN"], "scale": {"paddingInner": 0, "paddingOuter": 0.02}, "axis": {"title": null, "labelAngle": 0, "labelFontSize": 17}}},
  "layer": [
   {"data": {"name": "box_french"}, "mark": {"type": "rule", "color": "#3f3f3f", "strokeWidth": 1.5},
    "encoding": {"y": {"field": "lo", "type": "quantitative", "scale": {"domain": [0.054, 1.031], "nice": false, "zero": false}, "axis": null}, "y2": {"field": "q1"}}},
   {"data": {"name": "box_french"}, "mark": {"type": "rule", "color": "#3f3f3f", "strokeWidth": 1.5},
    "encoding": {"y": {"field": "q3", "type": "quantitative", "scale": {"domain": [0.054, 1.031], "nice": false, "zero": false}, "axis": null}, "y2": {"field": "hi"}}},
   {"data": {"name": "box_french"}, "mark": {"type": "bar", "width": {"band": 0.8}, "stroke": "#3f3f3f", "strokeWidth": 1.5},
    "encoding": {"y": {"field": "q1", "type": "quantitative", "scale": {"domain": [0.054, 1.031], "nice": false, "zero": false}, "axis": null}, "y2": {"field": "q3"},
     "color": {"field": "method", "type": "nominal", "scale": {"domain": ["BIRCH", "K-means", "DBSCAN"], "range": ["#3274a1", "#e1812c", "#3a923a"]}, "legend": null}}},
   {"data": {"name": "box_french"}, "mark": {"type": "tick", "color": "#3f3f3f", "size": 64, "thickness": 1.5, "opacity": 1},
    "encoding": {"y": {"field": "med", "type": "quantitative", "scale": {"domain": [0.054, 1.031], "nice": false, "zero": false}, "axis": null}}},
   {"data": {"name": "box_french"}, "mark": {"type": "tick", "color": "#3f3f3f", "size": 33, "thickness": 1.5, "opacity": 1},
    "encoding": {"y": {"field": "lo", "type": "quantitative", "scale": {"domain": [0.054, 1.031], "nice": false, "zero": false}, "axis": null}}},
   {"data": {"name": "box_french"}, "mark": {"type": "tick", "color": "#3f3f3f", "size": 33, "thickness": 1.5, "opacity": 1},
    "encoding": {"y": {"field": "hi", "type": "quantitative", "scale": {"domain": [0.054, 1.031], "nice": false, "zero": false}, "axis": null}}},
   {"data": {"name": "out_french"}, "mark": {"type": "point", "shape": "M0,-1L0.55,0L0,1L-0.55,0Z", "filled": true, "color": "#3f3f3f", "opacity": 1, "size": 50},
    "encoding": {"y": {"field": "v", "type": "quantitative", "scale": {"domain": [0.054, 1.031], "nice": false, "zero": false}, "axis": null}}}
  ]
 },
 {
  "width": 243, "height": 211,
  "resolve": {"scale": {"x": "independent", "y": "independent"}},
  "layer": [
   {"data": {"name": "sc_covid"},
    "mark": {"type": "circle", "size": 55, "opacity": 0.3, "strokeWidth": 1},
    "encoding": {
     "x": {"field": "size", "type": "quantitative", "scale": {"domain": [-16585, 340070], "nice": false, "zero": false}, "axis": {"orient": "bottom", "title": "cluster size", "titleFontSize": 15, "titlePadding": 7, "labelFontSize": 17, "values": [5, 60000, 300000], "labelExpr": "datum.value == 60000 ? '10000' : format(datum.value, 'd')"}},
     "y": {"field": "coh", "type": "quantitative", "scale": {"domain": [0.054, 1.036], "nice": false, "zero": false}, "axis": {"orient": "left", "title": "cosine coherence", "titleFontSize": 21, "titlePadding": 8, "labelFontSize": 12, "values": [0.2, 0.4, 0.6, 0.8, 1.0], "format": ".1f"}},
     "color": {"field": "method", "type": "nominal", "scale": {"domain": ["BIRCH", "K-means", "DBSCAN"], "range": ["#1f77b4", "#ff7f0e", "#2ca02c"]}, "legend": null},
     "stroke": {"field": "method", "type": "nominal", "scale": {"domain": ["BIRCH", "K-means", "DBSCAN"], "range": ["#1f77b4", "#ff7f0e", "#2ca02c"]}, "legend": null}
    }},
   {"layer": [
     {"data": {"values": [{}]}, "mark": {"type": "rect", "fill": "white", "stroke": "#262626", "strokeWidth": 1},
      "encoding": {"x": {"datum": 0, "type": "quantitative", "scale": {"domain": [0, 300], "range": [121.3, 229.7], "nice": false, "zero": false}, "axis": {"orient": "bottom", "offset": -102.3, "title": null, "values": [0, 100, 200, 300], "labelFontSize": 13}},
       "x2": {"datum": 300},
       "y": {"datum": 0.08, "type": "quantitative", "scale": {"domain": [0.08, 1.016], "range": [108.7, 12.7], "nice": false, "zero": false}, "axis": {"orient": "left", "offset": -121.3, "title": null, "values": [0.5, 1.0], "format": ".1f", "labelFontSize": 13}},
       "y2": {"datum": 1.016}}},
     {"data": {"name": "sc_covid"}, "transform": [{"filter": "datum.method != 'K-means' && datum.size <= 300"}],
      "mark": {"type": "circle", "size": 44, "opacity": 0.4, "stroke": "white", "strokeWidth": 0.6},
      "encoding": {"x": {"field": "size", "type": "quantitative", "title": null}, "y": {"field": "coh", "type": "quantitative", "title": null},
       "color": {"field": "method", "type": "nominal", "legend": null}, "order": {"field": "method", "sort": "descending"}}}
   ]}
  ]
 },
 {
  "width": 241, "height": 211,
  "resolve": {"scale": {"x": "independent", "y": "independent"}},
  "layer": [
   {"data": {"name": "sc_french"},
    "mark": {"type": "circle", "size": 55, "strokeWidth": 1},
    "encoding": {
     "x": {"field": "size", "type": "quantitative", "scale": {"domain": [-10850, 300000], "nice": false, "zero": false}, "axis": {"orient": "bottom", "title": "cluster size", "titleFontSize": 15, "titlePadding": 7, "labelFontSize": 17, "values": [5, 100000, 300000], "format": "d"}},
     "y": {"field": "coh", "type": "quantitative", "scale": {"domain": [0.078, 1.04], "nice": false, "zero": false}, "axis": {"orient": "right", "title": null, "labelFontSize": 13, "values": [0.2, 0.4, 0.6, 0.8, 1.0], "format": ".1f"}},
     "color": {"field": "method", "type": "nominal", "scale": {"domain": ["BIRCH", "K-means", "DBSCAN"], "range": ["#1f77b4", "#ff7f0e", "#2ca02c"]}, "legend": null},
     "stroke": {"field": "method", "type": "nominal", "scale": {"domain": ["BIRCH", "K-means", "DBSCAN"], "range": ["#1f77b4", "#ff7f0e", "#2ca02c"]}, "legend": null},
     "opacity": {"condition": {"test": "datum.method == 'K-means'", "value": 0.75}, "value": 0.3}
    }},
   {"layer": [
     {"data": {"values": [{}]}, "mark": {"type": "rect", "fill": "white", "stroke": "#262626", "strokeWidth": 1},
      "encoding": {"x": {"datum": 0, "type": "quantitative", "scale": {"domain": [0, 300], "range": [120, 234], "nice": false, "zero": false}, "axis": {"orient": "bottom", "offset": -104.7, "title": null, "values": [0, 100, 200, 300], "labelFontSize": 13}},
       "x2": {"datum": 300},
       "y": {"datum": 0.146, "type": "quantitative", "scale": {"domain": [0.146, 1.039], "range": [106.3, 7], "nice": false, "zero": false}, "axis": {"orient": "left", "offset": -120, "title": null, "values": [0.25, 0.5, 0.75, 1.0], "format": ".2f", "labelFontSize": 13}},
       "y2": {"datum": 1.039}}},
     {"data": {"name": "sc_french"}, "transform": [{"filter": "datum.method != 'K-means' && datum.size <= 300"}],
      "mark": {"type": "circle", "size": 44, "opacity": 0.4, "stroke": "white", "strokeWidth": 0.6},
      "encoding": {"x": {"field": "size", "type": "quantitative", "title": null}, "y": {"field": "coh", "type": "quantitative", "title": null},
       "color": {"field": "method", "type": "nominal", "legend": null}, "order": {"field": "method", "sort": "descending"}}}
   ]}
  ]
 }
]
}
